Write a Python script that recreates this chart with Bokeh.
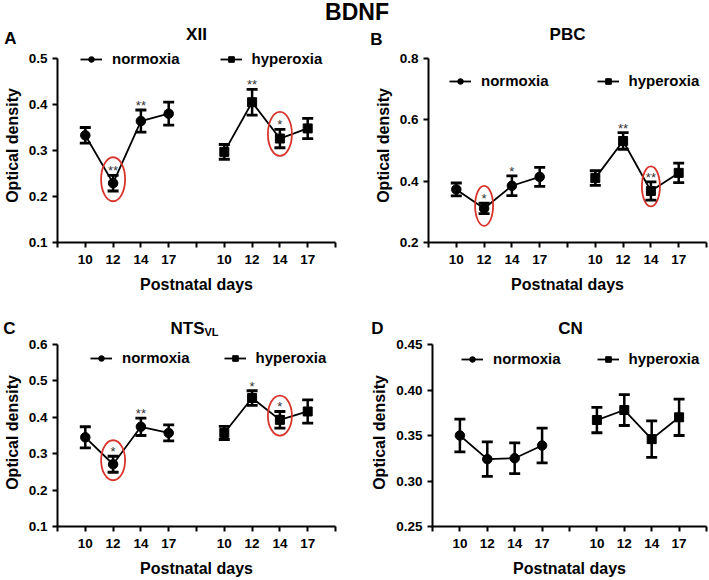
from bokeh.plotting import figure
from bokeh.models import (Range1d, FixedTicker, PrintfTickFormatter, Whisker, TeeHead,
                          ColumnDataSource, Legend, LegendItem, Label)
from bokeh.layouts import column, row
from bokeh.embed import file_html
from bokeh.resources import INLINE
from bokeh.core.properties import value

FONT = "Liberation Sans"

figure_title = "BDNF"
days = ["10", "12", "14", "17"]
groups = ["normoxia", "hyperoxia"]

# Panel A: XII
xii_norm = [0.333, 0.229, 0.364, 0.380]
xii_norm_err = [0.017, 0.017, 0.024, 0.025]
xii_hyp = [0.297, 0.405, 0.326, 0.348]
xii_hyp_err = [0.016, 0.028, 0.020, 0.022]
xii_sig_norm = ["", "**", "**", ""]
xii_sig_hyp = ["", "**", "*", ""]
xii_circ_norm = [False, True, False, False]
xii_circ_hyp = [False, False, True, False]
xii_ticks = [0.1, 0.2, 0.3, 0.4, 0.5]

# Panel B: PBC
pbc_norm = [0.373, 0.311, 0.385, 0.414]
pbc_norm_err = [0.021, 0.017, 0.032, 0.031]
pbc_hyp = [0.410, 0.531, 0.368, 0.427]
pbc_hyp_err = [0.024, 0.027, 0.030, 0.032]
pbc_sig_norm = ["", "*", "*", ""]
pbc_sig_hyp = ["", "**", "**", ""]
pbc_circ_norm = [False, True, False, False]
pbc_circ_hyp = [False, False, True, False]
pbc_ticks = [0.2, 0.4, 0.6, 0.8]

# Panel C: NTS_VL
nts_norm = [0.345, 0.271, 0.374, 0.357]
nts_norm_err = [0.029, 0.022, 0.024, 0.022]
nts_hyp = [0.357, 0.453, 0.393, 0.416]
nts_hyp_err = [0.018, 0.020, 0.023, 0.032]
nts_sig_norm = ["", "*", "**", ""]
nts_sig_hyp = ["", "*", "*", ""]
nts_circ_norm = [False, True, False, False]
nts_circ_hyp = [False, False, True, False]
nts_ticks = [0.1, 0.2, 0.3, 0.4, 0.5, 0.6]

# Panel D: CN
cn_norm = [0.350, 0.324, 0.325, 0.339]
cn_norm_err = [0.018, 0.019, 0.017, 0.019]
cn_hyp = [0.367, 0.378, 0.346, 0.370]
cn_hyp_err = [0.014, 0.017, 0.020, 0.020]
cn_sig_norm = ["", "", "", ""]
cn_sig_hyp = ["", "", "", ""]
cn_circ_norm = [False, False, False, False]
cn_circ_hyp = [False, False, False, False]
cn_ticks = [0.25, 0.30, 0.35, 0.40, 0.45]

RED = "#d8342c"


def blank(w, h):
    f = figure(width=w, height=h, x_range=Range1d(0, w), y_range=Range1d(0, h),
               toolbar_location=None, output_backend="svg", min_border=0, title=None,
               x_axis_location=None, y_axis_location=None)
    f.outline_line_color = None
    f.grid.visible = False
    return f


def txt(f, x, y, s, size, align="center"):
    f.add_layout(Label(x=x, y=y, text=s, text_font=FONT, text_font_style="bold",
                       text_font_size=size, text_color="black", text_align=align,
                       text_baseline="middle"))


def make_panel(norm, norm_err, hyp, hyp_err, sig_norm, sig_hyp, circ_norm, circ_hyp,
               yticks, yfmt, fw, fh, extra, bl, br, bb, leg_x, leg_y, leg_sp, ell_w, ell_h):
    n = len(days)
    xs_n = [i + 1 for i in range(n)]
    xs_h = [i + n + 2 for i in range(n)]
    xmax = 2 * n + 2
    y0, y1 = yticks[0], yticks[-1]
    yend = y1 + (y1 - y0) * extra / fh
    p = figure(frame_width=fw, frame_height=fh + extra,
               x_range=Range1d(0, xmax), y_range=Range1d(y0, yend),
               toolbar_location=None, output_backend="svg", title=None,
               min_border_left=bl, min_border_right=br, min_border_top=0, min_border_bottom=bb)
    p.outline_line_color = None
    p.grid.visible = False

    p.xaxis.ticker = FixedTicker(ticks=list(range(0, xmax + 1)))
    overrides = {i: "" for i in range(0, xmax + 1)}
    for i, d in enumerate(days):
        overrides[xs_n[i]] = d
        overrides[xs_h[i]] = d
    p.xaxis.major_label_overrides = overrides
    p.yaxis.ticker = FixedTicker(ticks=yticks)
    p.yaxis.formatter = PrintfTickFormatter(format=yfmt)
    p.yaxis.bounds = (y0, y1)
    p.xaxis.axis_label = "Postnatal days"
    p.yaxis.axis_label = "Optical density"
    for ax in (p.xaxis, p.yaxis):
        ax.axis_line_width = 2
        ax.major_tick_line_width = 2
        ax.major_tick_out = 5
        ax.major_tick_in = 0
        ax.minor_tick_line_color = None
        ax.major_label_text_font = FONT
        ax.major_label_text_font_style = "bold"
        ax.major_label_text_font_size = "13.5px"
        ax.major_label_text_color = "black"
        ax.axis_label_text_font = FONT
        ax.axis_label_text_font_style = "bold"
        ax.axis_label_text_font_size = "16px"
        ax.axis_label_text_color = "black"
    p.xaxis.major_label_standoff = 7
    p.xaxis.axis_label_standoff = 9
    p.yaxis.major_label_standoff = 5
    p.yaxis.axis_label_standoff = 5

    renderers = {}
    for key, xs, m, e, sig, circ, marker in (
            ("normoxia", xs_n, norm, norm_err, sig_norm, circ_norm, "circle"),
            ("hyperoxia", xs_h, hyp, hyp_err, sig_hyp, circ_hyp, "square")):
        src = ColumnDataSource(dict(x=xs, y=m,
                                    upper=[a + b for a, b in zip(m, e)],
                                    lower=[a - b for a, b in zip(m, e)]))
        ln = p.line("x", "y", source=src, line_color="black", line_width=1.8)
        wh = Whisker(base="x", upper="upper", lower="lower", source=src,
                     line_color="black", line_width=2.5,
                     upper_head=TeeHead(size=11, line_color="black", line_width=2.8),
                     lower_head=TeeHead(size=11, line_color="black", line_width=2.8),
                     level="glyph")
        p.add_layout(wh)
        sc = p.scatter("x", "y", source=src, marker=marker,
                       size=9.5 if marker == "circle" else 9,
                       fill_color="black", line_color="black")
        renderers[key] = (ln, sc)

        sx = [x for x, s in zip(xs, sig) if s]
        sy = [a + b for a, b, s in zip(m, e, sig) if s]
        st = [s for s in sig if s]
        if st:
            p.text(x=sx, y=sy, text=st, text_align="center", text_baseline="bottom",
                   y_offset=3, text_font=value(FONT), text_font_size="13px",
                   text_color="#333333")
        cx = [x for x, c in zip(xs, circ) if c]
        cy = [a + b / 2 for a, b, c in zip(m, e, circ) if c]
        if cx:
            p.ellipse(x=cx, y=cy, width=ell_w, height=ell_h, width_units="screen",
                      height_units="screen", fill_color=None, line_color=RED, line_width=1.8)

    leg = Legend(items=[LegendItem(label=g, renderers=list(renderers[g])) for g in groups],
                 location=(leg_x, leg_y), orientation="horizontal", spacing=leg_sp,
                 glyph_width=22, glyph_height=14, label_standoff=10, padding=0, margin=0,
                 border_line_color=None, background_fill_alpha=0,
                 label_text_font=FONT, label_text_font_style="bold",
                 label_text_font_size="15px", label_text_color="black")
    p.add_layout(leg)
    return p


# borders (left, right) and frame widths per panel
A_bl, A_fw, A_br = 55, 278, 21
B_bl, B_fw, B_br = 72, 278, 3
C_bl, C_fw, C_br = 55, 278, 21
D_bl, D_fw, D_br = 76, 274, 3

pA = make_panel(xii_norm, xii_norm_err, xii_hyp, xii_hyp_err,
                xii_sig_norm, xii_sig_hyp, xii_circ_norm, xii_circ_hyp, xii_ticks, "%.1f",
                A_fw, 184, 10, A_bl, A_br, 54, 23, 175, 40, 24, 44)
pB = make_panel(pbc_norm, pbc_norm_err, pbc_hyp, pbc_hyp_err,
                pbc_sig_norm, pbc_sig_hyp, pbc_circ_norm, pbc_circ_hyp, pbc_ticks, "%.1f",
                B_fw, 184, 10, B_bl, B_br, 54, 21, 153, 48, 18, 40)
pC = make_panel(nts_norm, nts_norm_err, nts_hyp, nts_hyp_err,
                nts_sig_norm, nts_sig_hyp, nts_circ_norm, nts_circ_hyp, nts_ticks, "%.1f",
                C_fw, 182, 6, C_bl, C_br, 52, 33, 160, 34, 24, 40)
pD = make_panel(cn_norm, cn_norm_err, cn_hyp, cn_hyp_err,
                cn_sig_norm, cn_sig_hyp, cn_circ_norm, cn_circ_hyp, cn_ticks, "%.2f",
                D_fw, 182, 6, D_bl, D_br, 52, 29, 159, 36, 24, 40)

W_left = A_bl + A_fw + A_br
W_total = W_left + B_bl + B_fw + B_br

# header above top row: figure title, panel letters, panel titles
h1 = blank(W_total, 48)
txt(h1, W_total / 2 + 3, 37, figure_title, "23px")
txt(h1, 10, 10, "A", "17px")
txt(h1, A_bl + A_fw / 2 + 2, 14, "XII", "17px")
txt(h1, W_left + 22, 9.5, "B", "17px")
txt(h1, W_left + B_bl + B_fw / 2 + 2, 14, "PBC", "17px")

# header above bottom row
h2 = blank(W_total, 42)
txt(h2, 9, 10.5, "C", "17px")
cxC = C_bl + C_fw / 2
txt(h2, cxC + 10, 10.5, "NTS", "17px", "right")
txt(h2, cxC + 10, 6.5, "VL", "11px", "left")
txt(h2, W_left + 23, 10.5, "D", "17px")
txt(h2, W_left + D_bl + D_fw / 2 + 3, 10.5, "CN", "17px")

layout = column(h1, row(pA, pB), h2, row(pC, pD))
open("out.html", "w").write(file_html(layout, INLINE))
